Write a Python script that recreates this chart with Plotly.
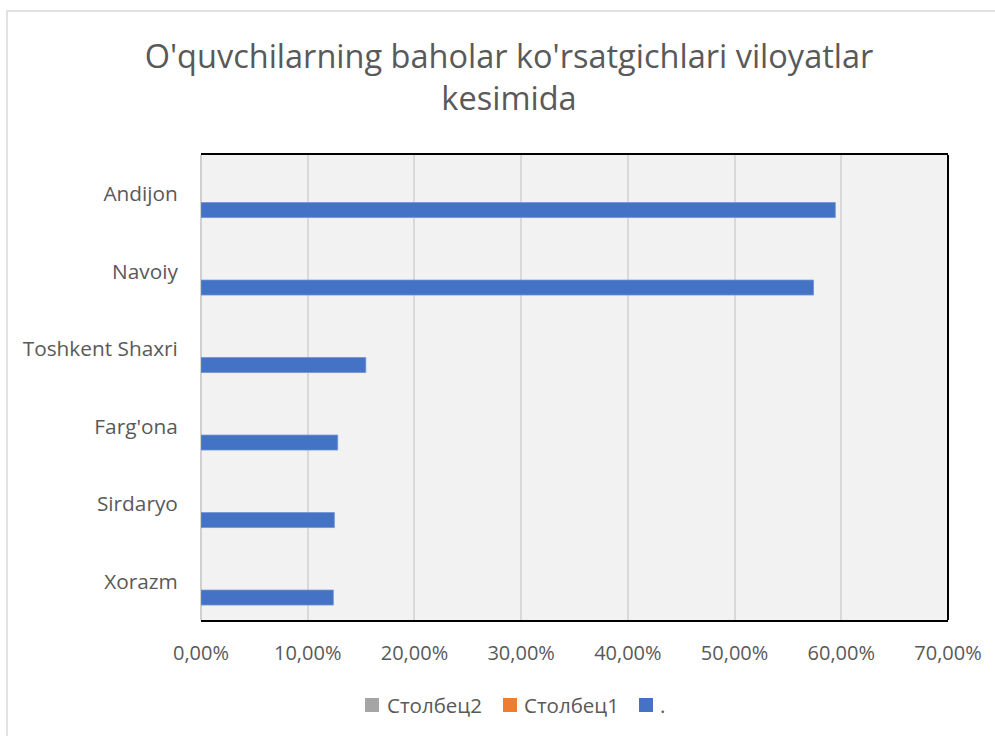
import plotly.graph_objects as go

categories = ["Andijon", "Navoiy", "Toshkent Shaxri", "Farg'ona", "Sirdaryo", "Xorazm"]
values_dot = [0.5944, 0.574, 0.1544, 0.1281, 0.125, 0.124]
series_names = ["Столбец2", "Столбец1", "."]
series_colors = ["#a5a5a5", "#ed7d31", "#4472c4"]
x_tick_vals = [0, 0.1, 0.2, 0.3, 0.4, 0.5, 0.6, 0.7]

W, H = 995, 736
L, R, T, B = 201, 948, 155, 620
pw, ph = R - L, B - T

def px_x(p):
    return (p - L) / pw

def px_y(p):
    return (B - p) / ph

font_family = "'Open Sans', Lato, sans-serif"
txt = "#595959"

fig = go.Figure()
# empty series (no values)
for name, col in zip(series_names[:2], series_colors[:2]):
    fig.add_trace(go.Bar(
        x=[None] * len(categories), y=categories, orientation="h",
        name=name, marker=dict(color=col, line=dict(width=0)),
        showlegend=False,
    ))
fig.add_trace(go.Bar(
    x=values_dot, y=categories, orientation="h", name=series_names[2],
    marker=dict(color=series_colors[2], line=dict(color="#6f93d6", width=0.8)),
    offset=0.114, width=0.193, showlegend=False,
))

fig.update_layout(
    width=W, height=H,
    margin=dict(l=L, r=W - R, t=T, b=H - B, autoexpand=False),
    paper_bgcolor="white", plot_bgcolor="#f2f2f2",
    barmode="overlay",
    separators=", ",
    font=dict(family=font_family, color=txt, size=20),
    title=dict(
        text="O'quvchilarning baholar ko'rsatgichlari viloyatlar<br>kesimida",
        x=px_x(509), xref="paper", xanchor="center",
        y=1 - 68 / H, yref="container", yanchor="top",
        font=dict(family=font_family, size=32.5, color=txt),
    ),
    showlegend=False,
)
fig.update_xaxes(
    range=[0, 0.7], tickvals=x_tick_vals, tickformat=".2%",
    showgrid=True, gridcolor="#d9d9d9", gridwidth=1.5,
    zeroline=True, zerolinecolor="#d0d0d0", zerolinewidth=2,
    showline=True, linecolor="black", linewidth=2, mirror=True,
    ticks="outside", ticklen=14, tickcolor="rgba(0,0,0,0)",
    tickfont=dict(size=20, color=txt), fixedrange=True,
)
fig.update_yaxes(
    type="category", categoryorder="array", categoryarray=categories,
    range=[5.5, -0.5], showgrid=False, zeroline=False, showline=False,
    ticks="outside", ticklen=18, tickcolor="rgba(0,0,0,0)",
    tickfont=dict(size=20.8, color=txt), fixedrange=True,
)
# right border of plot area
fig.add_shape(type="line", xref="paper", yref="paper", x0=1, x1=1, y0=0, y1=1,
              line=dict(color="black", width=2))
# outer chart border
fig.add_shape(type="rect", xref="paper", yref="paper",
              x0=px_x(7), x1=px_x(1020), y0=px_y(11), y1=px_y(760),
              line=dict(color="#d9d9d9", width=1.5), layer="below")

# legend drawn as squares + text
legend_sq_left = [365, 503, 639]
legend_txt_left = [385, 522, 658]
legend_y = 705
for name, col, sx, tx in zip(series_names, series_colors, legend_sq_left, legend_txt_left):
    fig.add_shape(type="rect", xref="paper", yref="paper",
                  x0=px_x(sx), x1=px_x(sx + 14), y0=px_y(legend_y - 7), y1=px_y(legend_y + 7),
                  fillcolor=col, line=dict(width=0))
    fig.add_annotation(text=name, xref="paper", yref="paper",
                       x=px_x(tx), y=px_y(legend_y), xanchor="left", yanchor="middle",
                       showarrow=False, font=dict(size=20.5, color=txt, family=font_family))

fig.write_html("out.html", config={"displayModeBar": False},
               post_script="document.body.style.margin='0px';")
